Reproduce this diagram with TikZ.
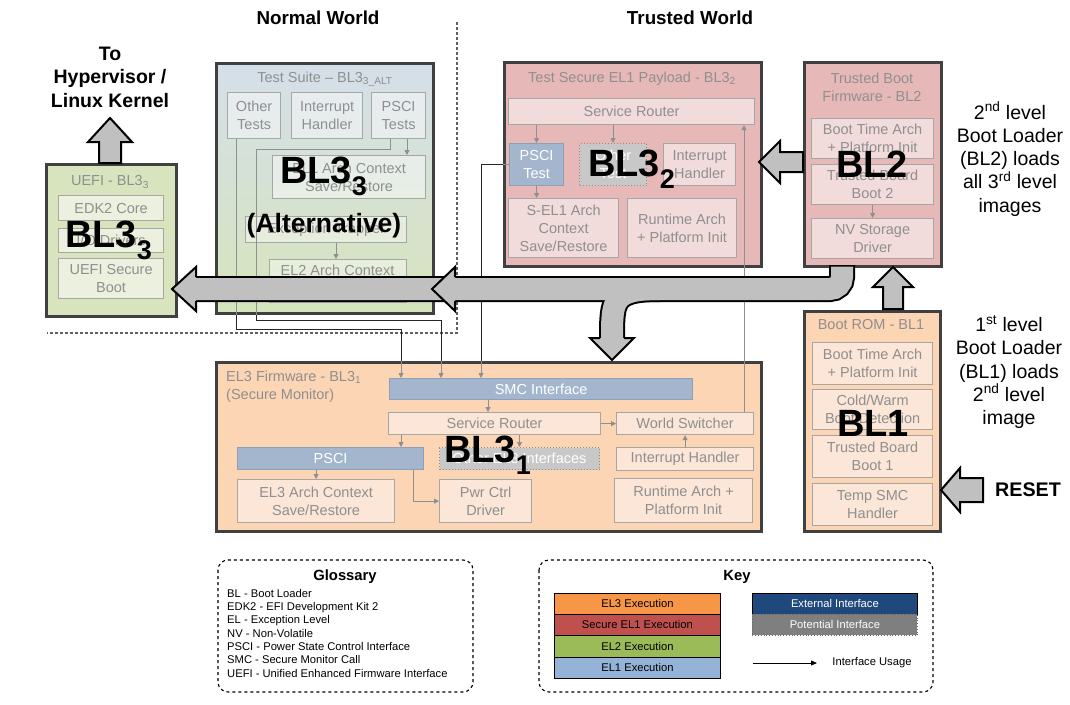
\documentclass[tikz,border=0pt]{standalone}
\usepackage{fontspec}
\setmainfont{Liberation Sans}
\usetikzlibrary{arrows.meta,calc}
\definecolor{dborder}{HTML}{404040}
\definecolor{sborder}{HTML}{A6A6A6}
\definecolor{gtext}{HTML}{8F8F8F}
\definecolor{peach}{HTML}{FCD5B5}
\definecolor{peachsub}{HTML}{FCE6D7}
\definecolor{spink}{HTML}{E6B9B8}
\definecolor{spinksub}{HTML}{F2DCDB}
\definecolor{egreen}{HTML}{D7E4BD}
\definecolor{egreensub}{HTML}{EBF1DE}
\definecolor{tstop}{HTML}{D5DFE9}
\definecolor{tsbot}{HTML}{D6E4BC}
\definecolor{eblue}{HTML}{A4B6CE}
\definecolor{bborder}{HTML}{8DA0B9}
\definecolor{potfill}{HTML}{C8C8C8}
\definecolor{agray}{HTML}{C0C0C0}
\definecolor{kel3}{HTML}{F79646}
\definecolor{ksel1}{HTML}{C0504D}
\definecolor{kel2}{HTML}{9BBB59}
\definecolor{kel1}{HTML}{95B3D7}
\definecolor{kext}{HTML}{1F497D}
\definecolor{kpot}{HTML}{7F7F7F}
\definecolor{dashc}{HTML}{606060}
\newcommand{\subf}{\fontsize{14.5}{18}\selectfont}
\newcommand{\bigf}{\fontsize{38}{40}\selectfont\bfseries}
\newcommand{\sbs}[1]{\raisebox{-12pt}{\fontsize{27}{27}\selectfont #1}}
\newcommand{\placebox}[7]{\node[#1,anchor=north west,minimum width={(#5)-(#3)},minimum height={(#6)-(#4)}] (#2) at (#3,#4) {#7};}
\begin{document}
\begin{tikzpicture}[x=1pt,y=-1pt,
  bigbox/.style={draw=dborder, line width=3pt, inner sep=0pt},
  subbox/.style={draw=sborder, line width=1.2pt, text=gtext, font=\subf, align=center, inner sep=0pt},
  bluebox/.style={fill=eblue, draw=bborder, line width=1.2pt, text=white, font=\subf, align=center, inner sep=0pt},
  potbox/.style={fill=potfill, draw=gtext, dotted, line width=1pt, text=white, font=\subf, align=center, inner sep=0pt},
  ttl/.style={text=gtext, font=\subf, align=center, inner sep=0pt},
  biglab/.style={font=\bigf, inner sep=0pt, anchor=base west},
  gline/.style={draw=gtext, line width=0.9pt},
  kline/.style={draw=black!85, line width=0.9pt},
  arr/.style={-{Triangle[length=5pt,width=5pt]}},
  blk/.style={fill=agray, draw=black, line width=2pt, line join=miter},
  hdr/.style={font=\fontsize{18.8}{23.5}\selectfont\bfseries, align=center, inner sep=0pt},
  sidetxt/.style={font=\fontsize{19.5}{23.3}\selectfont, align=center, inner sep=0pt},
  gloss/.style={font=\fontsize{11.2}{13.4}\selectfont, inner sep=0pt, anchor=base west},
  keyrow/.style={draw=black, line width=0.8pt, font=\fontsize{11.2}{13.4}\selectfont, inner sep=0pt},
  dashbox/.style={draw=black, dashed, line width=1.1pt, rounded corners=10pt},
  shead/.style={font=\fontsize{14.8}{16}\selectfont\bfseries, inner sep=0pt}
]
\useasboundingbox (0,0) rectangle (1070,704);
\fill[white] (0,0) rectangle (1070,704);

% headings
\node[hdr] (nwT) at (318,18) {Normal World};
\node[hdr] (twT) at (690,18) {Trusted World};
\node[hdr, font=\fontsize{19.5}{23.5}\selectfont\bfseries] (hypT) at (110,77) {To\\Hypervisor /\\Linux Kernel};

% separators
\coordinate (sepTop) at (457,22);
\coordinate (sepCorner) at (457,333);
\coordinate (sepLeft) at (47,333);
\draw[dashc, line width=1.2pt, dash pattern=on 3pt off 2pt] (sepTop) -- (sepCorner) -- (sepLeft);

% big boxes
\placebox{bigbox,fill=egreen}{uefi}{45}{163}{175}{315}{}
\placebox{bigbox,top color=tstop,bottom color=tsbot}{tsuite}{215}{62}{432}{312}{}
\placebox{bigbox,fill=spink}{bl32}{503}{61}{760}{265}{}
\placebox{bigbox,fill=spink}{bl2}{803}{61}{940}{265}{}
\placebox{bigbox,fill=peach}{bl1}{803}{310}{939}{530}{}
\placebox{bigbox,fill=peach}{el3}{215}{361}{760}{530}{}

% titles
\node[ttl] (uefiT) at (110,182) {UEFI - BL3\textsubscript{3}};
\node[ttl] (tsT) at (325,79) {Test Suite – BL3\textsubscript{3\_ALT}};
\node[ttl] (b32T) at (632,79) {Test Secure EL1 Payload - BL3\textsubscript{2}};
\node[ttl] (b2T) at (872,87) {Trusted Boot\\Firmware - BL2};
\node[ttl] (b1T) at (871,325) {Boot ROM - BL1};
\node[ttl, align=left, anchor=west] (el3T) at (226,387) {EL3 Firmware - BL3\textsubscript{1}\\(Secure Monitor)};

% UEFI subs
\placebox{subbox,fill=egreensub}{edk}{58}{195}{163}{220}{EDK2 Core}
\placebox{subbox,fill=egreensub}{iod}{58}{228}{163}{252}{I/O Drivers}
\placebox{subbox,fill=egreensub}{usb}{58}{258}{163}{298}{UEFI Secure\\Boot}

% Test suite subs
\placebox{subbox,fill=white,fill opacity=0.45,text opacity=1}{other}{227}{92}{280}{138}{Other\\Tests}
\placebox{subbox,fill=white,fill opacity=0.45,text opacity=1}{intr}{291}{92}{362}{138}{Interrupt\\Handler}
\placebox{subbox,fill=white,fill opacity=0.45,text opacity=1}{psci}{371}{92}{425}{138}{PSCI\\Tests}
\placebox{subbox,fill=white,fill opacity=0.45,text opacity=1}{el1ctx}{272}{155}{425}{198}{EL1 Arch Context\\Save/Restore}
\placebox{subbox,fill=white,fill opacity=0.4,text opacity=1}{exc}{245}{216}{406}{242}{Exception Trapper}
\placebox{subbox,fill=white,fill opacity=0.4,text opacity=1}{el2ctx}{269}{259}{406}{302}{}
\node[ttl] (el2ctxT) at (337.5,270) {EL2 Arch Context};

% BL3_2 subs
\placebox{subbox,fill=spinksub}{sr32}{508}{98}{754}{124}{Service Router}
\placebox{bluebox}{psci32}{509}{143}{563}{185}{PSCI\\Test}
\placebox{potbox}{oth32}{579}{143}{646}{185}{Other\\Test}
\placebox{subbox,fill=spinksub}{ih32}{663}{143}{735}{185}{Interrupt\\Handler}
\placebox{subbox,fill=spinksub}{sel1}{508}{198}{618}{257}{S-EL1 Arch\\Context\\Save/Restore}
\placebox{subbox,fill=spinksub}{rt32}{627}{198}{736}{257}{Runtime Arch\\+ Platform Init}

% BL2 subs
\placebox{subbox,fill=spinksub}{bta2}{811}{118}{933}{158}{Boot Time Arch\\+ Platform Init}
\placebox{subbox,fill=spinksub}{tbb2}{811}{164}{933}{204}{Trusted Board\\Boot 2}
\placebox{subbox,fill=spinksub}{nv}{811}{218}{933}{258}{NV Storage\\Driver}

% BL1 subs
\placebox{subbox,fill=peachsub}{bta1}{812}{342}{932}{384}{Boot Time Arch\\+ Platform Init}
\placebox{subbox,fill=peachsub}{cw}{812}{389}{932}{429}{Cold/Warm\\Boot Detection}
\placebox{subbox,fill=peachsub}{tbb1}{812}{435}{932}{477}{Trusted Board\\Boot 1}
\placebox{subbox,fill=peachsub}{tsmc}{812}{483}{932}{525}{Temp SMC\\Handler}

% EL3 subs
\placebox{bluebox}{smc}{389}{378}{692}{399}{SMC Interface}
\placebox{subbox,fill=peachsub}{sr3}{388}{412}{600}{434}{Service Router}
\placebox{subbox,fill=peachsub}{ws}{616}{412}{753}{434}{World Switcher}
\placebox{bluebox}{psci3}{237}{447}{423}{469}{PSCI}
\placebox{potbox}{oel3}{439}{447}{599}{469}{Other EL3 Interfaces}
\placebox{subbox,fill=peachsub}{ih3}{616}{447}{753}{470}{Interrupt Handler}
\placebox{subbox,fill=peachsub}{el3ctx}{237}{479}{394}{522}{EL3 Arch Context\\Save/Restore}
\placebox{subbox,fill=peachsub}{pwr}{439}{479}{531}{522}{Pwr Ctrl\\Driver}
\placebox{subbox,fill=peachsub}{rt3}{614}{478}{752}{522}{Runtime Arch +\\Platform Init}

% internal arrows
\coordinate (cA) at (236,0);
\coordinate (cB) at (256,0);
\coordinate (cB0) at (390,0);
\coordinate (c407) at (407,0);
\coordinate (c336) at (336,0);
\coordinate (c488) at (488,0);
\coordinate (c401) at (401,0);
\coordinate (c413) at (413,0);
\coordinate (cD) at (744,0);
\coordinate (pA) at (401,361);
\coordinate (pB) at (441,361);
\coordinate (pC) at (481,361);

\draw[gline,arr] (psci.south -| c407) -- (el1ctx.north -| c407);
\draw[gline,arr] (exc.south -| c336) -- (el2ctx.north -| c336);
\draw[gline,arr] (sr32.south -| psci32.north) -- (psci32.north);
\draw[gline,arr] (sr32.south -| oth32.north) -- (oth32.north);
\draw[gline,arr] (psci32.south) -- (psci32.south |- sel1.north);
\draw[gline,arr] (tbb2.south) -- (nv.north);
\draw[gline,arr] (smc.south -| c488) -- (sr3.north -| c488);
\draw[gline,arr] (sr3.south -| c401) -- (psci3.north -| c401);
\draw[gline,arr] (sr3.south -| oel3.north) -- (oel3.north);
\draw[gline,arr] (sr3.east) -- (ws.west);
\draw[gline,arr] (ih3.north) -- (ws.south);
\draw[gline,arr] (psci3.south -| el3ctx.north) -- (el3ctx.north);
\draw[gline,arr] (psci3.south -| c413) |- (pwr.west);

% interface lines
\draw[gline] (other.south -| cA) -- (tsuite.south -| cA);
\draw[kline] (tsuite.south -| cA) -- ++(0,14) -| (pA);
\draw[gline,arr] (pA) -- (smc.north -| pA);
\draw[gline] (psci.south -| cB0) -- ++(0,10) -| (tsuite.south -| cB);
\draw[kline] (tsuite.south -| cB) -- ++(0,5) -| (pB);
\draw[gline,arr] (pB) -- (smc.north -| pB);
\draw[gline] (psci32.west) -- (bl32.west |- psci32.west);
\draw[kline] (bl32.west |- psci32.west) -| (pC);
\draw[gline,arr] (pC) -- (smc.north -| pC);
\draw[gline,arr] (ws.north -| cD) -- (sr32.south -| cD);

% big labels
\node[biglab] (L33a) at (65,247) {BL3\sbs{3}};
\node[biglab] (L33b) at (280,183) {BL3\sbs{3}};
\node[font=\fontsize{26.5}{28}\selectfont\bfseries, inner sep=0pt, anchor=base] (altT) at (324,232) {(Alternative)};
\node[biglab] (L32) at (588,176) {BL3\sbs{2}};
\node[biglab] (L2) at (836,177) {BL2};
\node[biglab] (L1) at (837,436) {BL1};
\node[biglab] (L31) at (444,462) {BL3\sbs{1}};

% big band arrow
\draw[line width=26pt, black, rounded corners=12pt] (842,265) -- (842,289) -- (194,289);
\draw[line width=26pt, black] (660,289) .. controls (612,289) and (612,300) .. (612,339);
\draw[line width=22pt, agray, rounded corners=12pt] (842,266.5) -- (842,289) -- (194,289);
\draw[line width=22pt, agray] (660,289) .. controls (612,289) and (612,300) .. (612,339);
\fill[agray] (196,267) -- (172,289) -- (196,311) -- cycle;
\draw[black, line width=2pt, line join=miter] (196,277) -- (196,267) -- (172,289) -- (196,311) -- (196,301);
\fill[agray] (455,267) -- (432,289) -- (455,311) -- cycle;
\draw[black, line width=2pt, line join=miter] (455,277) -- (455,267) -- (432,289) -- (455,311) -- (455,301);
\fill[agray] (590,338) -- (612,360) -- (634,338) -- cycle;
\draw[black, line width=2pt, line join=miter] (600,338) -- (590,338) -- (612,360) -- (634,338) -- (624,338);

% block arrows
\draw[blk] (99,163) -- (99,142) -- (88,142) -- (110,118) -- (132,142) -- (121,142) -- (121,163) -- cycle;
\draw[blk] (803,152) -- (780,152) -- (780,141) -- (759,162) -- (780,183) -- (780,172) -- (803,172) -- cycle;
\draw[blk] (883,309) -- (883,287) -- (873,287) -- (893,267) -- (913,287) -- (903,287) -- (903,309) -- cycle;
\draw[blk] (983,478) -- (960,478) -- (960,468) -- (941,490) -- (960,512) -- (960,502) -- (983,502) -- cycle;

% right texts
\node[sidetxt] (s2T) at (1010,159) {2\textsuperscript{nd} level\\Boot Loader\\(BL2) loads\\all 3\textsuperscript{rd} level\\images};
\node[sidetxt] (s1T) at (1009,372) {1\textsuperscript{st} level\\Boot Loader\\(BL1) loads\\2\textsuperscript{nd} level\\image};
\node[font=\fontsize{19.7}{22}\selectfont\bfseries, inner sep=0pt] (resetT) at (1028,490) {RESET};

% glossary
\draw[dashbox] (218,560) rectangle (473,692);
\node[shead] (glT) at (345,577) {Glossary};
\foreach \t [count=\i] in {BL - Boot Loader, EDK2 - EFI Development Kit 2, EL - Exception Level, NV - Non-Volatile, PSCI - Power State Control Interface, SMC - Secure Monitor Call, UEFI - Unified Enhanced Firmware Interface}
  \node[gloss] (g\i) at (227,{597+13.35*(\i-1)}) {\t};

% key
\draw[dashbox] (539,560) rectangle (933,692);
\node[shead] (keyT) at (737,577) {Key};
\placebox{keyrow,fill=kel3}{k3}{554}{593}{720}{614}{EL3 Execution}
\placebox{keyrow,fill=ksel1}{ks1}{554}{614}{720}{635}{Secure EL1 Execution}
\placebox{keyrow,fill=kel2}{k2}{554}{635}{720}{657}{EL2 Execution}
\placebox{keyrow,fill=kel1}{k1}{554}{657}{720}{678}{EL1 Execution}
\placebox{keyrow,fill=kext,text=white}{kx}{752}{593}{917}{614}{External Interface}
\placebox{keyrow,fill=kpot,text=white,draw=black!60,dotted}{kp}{752}{614}{917}{635}{Potential Interface}
\coordinate (ku0) at (753,663);
\coordinate (ku1) at (817,663);
\draw[black, line width=0.8pt, -{Triangle[length=6pt,width=5pt]}] (ku0) -- (ku1);
\node[font=\fontsize{11.2}{13.4}\selectfont, inner sep=0pt] (kuT) at (872,663) {Interface Usage};
\end{tikzpicture}
\end{document}
